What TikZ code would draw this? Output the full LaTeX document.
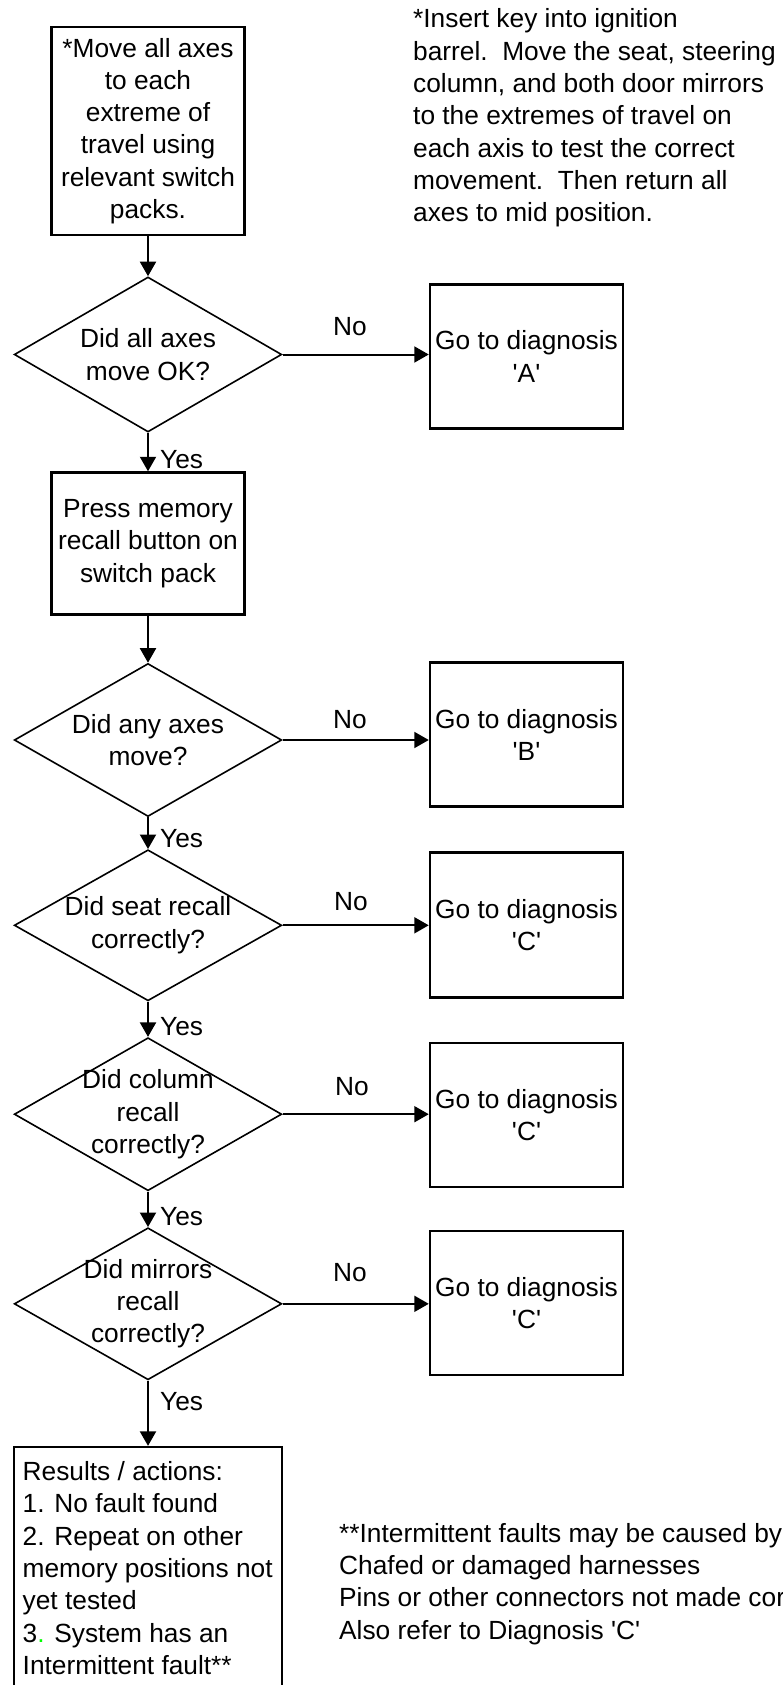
\documentclass[tikz,border=0pt]{standalone}
\usepackage{fontspec}
\setmainfont{Liberation Sans}
\usetikzlibrary{arrows.meta,shapes.geometric,calc}
\definecolor{dotgreen}{RGB}{0,255,0}
\newcommand{\sq}{\textquotesingle}
\begin{document}
\begin{tikzpicture}[x=1pt,y=-1pt,
  every node/.style={font=\fontsize{26.3pt}{32.3pt}\selectfont, inner sep=0pt},
  box/.style={draw, line width=2.5pt, minimum width=193pt, minimum height=144pt, align=center},
  dia/.style={draw, diamond, line width=1.6pt, minimum width=267.5pt, minimum height=153pt, inner sep=0pt},
  resbox/.style={draw, line width=2.3pt, minimum width=267.5pt, minimum height=253pt},
  arr/.style={line width=2pt, -{Triangle[length=14.5pt,width=16pt]}},
  lbl/.style={inner sep=0pt},
  txt/.style={align=center},
  note/.style={align=left, anchor=west}
]
\useasboundingbox (0,0) rectangle (783,1685);

% main column
\node[box, minimum height=208pt] (b1) at (148,131) {*Move all axes\\to each\\extreme of\\travel using\\relevant switch\\packs.};
\node[dia, minimum height=155pt] (d1) at (148,354.5) {};
\node[txt] (t1) at (d1) {Did all axes\\move OK?};
\node[box, minimum height=143.5pt] (ga) at (526.5,356.5) {Go to diagnosis\\\sq A\sq};

\node[box, minimum height=142pt] (b2) at (148,543.5) {Press memory\\recall button on\\switch pack};

\node[dia] (d2) at (148,740) {};
\node[txt] (t2) at (d2) {Did any axes\\move?};
\node[box] (gb) at (526.5,734.7) {Go to diagnosis\\\sq B\sq};

\node[dia, minimum height=151pt] (d3) at (148,925.3) {};
\node[txt] (t3) at (d3) {Did seat recall\\correctly?};
\node[box, minimum height=145pt] (gc1) at (526.5,924.8) {Go to diagnosis\\\sq C\sq};

\node[dia] (d4) at (148,1114.2) {};
\node[txt] (t4) at (d4) {Did column\\recall\\correctly?};
\node[box] (gc2) at (526.5,1115) {Go to diagnosis\\\sq C\sq};

\node[dia, minimum height=152pt] (d5) at (148,1303.8) {};
\node[txt] (t5) at (d5) {Did mirrors\\recall\\correctly?};
\node[box] (gc3) at (526.5,1302.8) {Go to diagnosis\\\sq C\sq};

\node[resbox] (res) at (148,1573.5) {};
\node[note] (restext) at (22.5,1568) {Results / actions:\\1. No fault found\\2. Repeat on other\\memory positions not\\yet tested\\3\textcolor{dotgreen}{.} System has an\\Intermittent fault**};

% notes
\node[note] (top) at (413,118) {*Insert key into ignition\\barrel.\ \ Move the seat, steering\\column, and both door mirrors\\to the extremes of travel on\\each axis to test the correct\\movement.\ \ Then return all\\axes to mid position.};
\node[note] (foot) at (339,1584) {**Intermittent faults may be caused by\\Chafed or damaged harnesses\\Pins or other connectors not made cor\\Also refer to Diagnosis \sq C\sq};

% vertical connectors
\draw[arr] (b1.south) -- (d1.north);
\draw[arr] (d1.south) -- (b2.north);
\draw[arr] (b2.south) -- (d2.north);
\draw[arr] (d2.south) -- (d3.north);
\draw[arr] (d3.south) -- (d4.north);
\draw[arr] (d4.south) -- (d5.north);
\draw[arr] (d5.south) -- (res.north);

% horizontal connectors
\draw[arr] (d1.east) -- (d1.east -| ga.west);
\draw[arr] (d2.east) -- (d2.east -| gb.west);
\draw[arr] (d3.east) -- (d3.east -| gc1.west);
\draw[arr] (d4.east) -- (d4.east -| gc2.west);
\draw[arr] (d5.east) -- (d5.east -| gc3.west);

% labels
\node[lbl] (no1) at (350,327) {No};
\node[lbl] (no2) at (350,720) {No};
\node[lbl] (no3) at (351,902) {No};
\node[lbl] (no4) at (352,1087) {No};
\node[lbl] (no5) at (350,1273) {No};

\node[lbl, anchor=west] (y1) at (160,460) {Yes};
\node[lbl, anchor=west] (y2) at (160,839) {Yes};
\node[lbl, anchor=west] (y3) at (160,1027) {Yes};
\node[lbl, anchor=west] (y4) at (160,1217) {Yes};
\node[lbl, anchor=west] (y5) at (160,1402) {Yes};
\end{tikzpicture}
\end{document}
